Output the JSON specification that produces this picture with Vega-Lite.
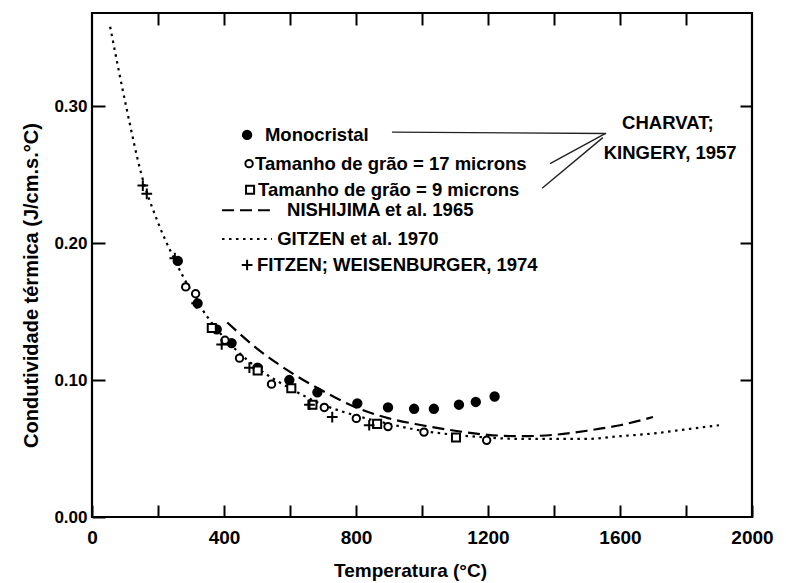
{
  "$schema": "https://vega.github.io/schema/vega-lite/v6.json",
  "width": 660,
  "height": 504,
  "autosize": {"type": "none"},
  "padding": {"left": 92, "top": 13, "right": 34, "bottom": 66},
  "background": "white",
  "config": {
    "view": {"stroke": "black", "strokeWidth": 2.2},
    "axis": {
      "grid": false, "domain": false, "ticks": true, "tickColor": "black", "tickWidth": 2,
      "labelColor": "black", "titleColor": "black",
      "labelFont": "Liberation Sans", "labelFontWeight": "bold",
      "titleFont": "Liberation Sans", "titleFontWeight": "bold"
    }
  },
  "datasets": {
    "points": [
      {"series": "Monocristal", "T": 260, "k": 0.187},
      {"series": "Monocristal", "T": 320, "k": 0.156},
      {"series": "Monocristal", "T": 378, "k": 0.137},
      {"series": "Monocristal", "T": 423, "k": 0.127},
      {"series": "Monocristal", "T": 502, "k": 0.109},
      {"series": "Monocristal", "T": 598, "k": 0.100},
      {"series": "Monocristal", "T": 683, "k": 0.091},
      {"series": "Monocristal", "T": 804, "k": 0.083},
      {"series": "Monocristal", "T": 897, "k": 0.080},
      {"series": "Monocristal", "T": 976, "k": 0.079},
      {"series": "Monocristal", "T": 1036, "k": 0.079},
      {"series": "Monocristal", "T": 1112, "k": 0.082},
      {"series": "Monocristal", "T": 1163, "k": 0.084},
      {"series": "Monocristal", "T": 1220, "k": 0.088},
      {"series": "Grao17", "T": 284, "k": 0.168},
      {"series": "Grao17", "T": 314, "k": 0.163},
      {"series": "Grao17", "T": 403, "k": 0.129},
      {"series": "Grao17", "T": 447, "k": 0.116},
      {"series": "Grao17", "T": 544, "k": 0.097},
      {"series": "Grao17", "T": 704, "k": 0.080},
      {"series": "Grao17", "T": 801, "k": 0.072},
      {"series": "Grao17", "T": 897, "k": 0.066},
      {"series": "Grao17", "T": 1006, "k": 0.062},
      {"series": "Grao17", "T": 1196, "k": 0.056},
      {"series": "Grao9", "T": 363, "k": 0.138},
      {"series": "Grao9", "T": 502, "k": 0.107},
      {"series": "Grao9", "T": 604, "k": 0.094},
      {"series": "Grao9", "T": 668, "k": 0.082},
      {"series": "Grao9", "T": 864, "k": 0.068},
      {"series": "Grao9", "T": 1103, "k": 0.058},
      {"series": "Fitzen", "T": 154, "k": 0.242},
      {"series": "Fitzen", "T": 166, "k": 0.236},
      {"series": "Fitzen", "T": 251, "k": 0.189},
      {"series": "Fitzen", "T": 317, "k": 0.156},
      {"series": "Fitzen", "T": 393, "k": 0.126},
      {"series": "Fitzen", "T": 477, "k": 0.109},
      {"series": "Fitzen", "T": 659, "k": 0.082},
      {"series": "Fitzen", "T": 728, "k": 0.073},
      {"series": "Fitzen", "T": 840, "k": 0.067}
    ],
    "curves": [
      {"curve": "GITZEN", "T": 55, "k": 0.358},
      {"curve": "GITZEN", "T": 105, "k": 0.298},
      {"curve": "GITZEN", "T": 150, "k": 0.250},
      {"curve": "GITZEN", "T": 200, "k": 0.215},
      {"curve": "GITZEN", "T": 250, "k": 0.188},
      {"curve": "GITZEN", "T": 300, "k": 0.165},
      {"curve": "GITZEN", "T": 350, "k": 0.146},
      {"curve": "GITZEN", "T": 400, "k": 0.131},
      {"curve": "GITZEN", "T": 450, "k": 0.119},
      {"curve": "GITZEN", "T": 500, "k": 0.109},
      {"curve": "GITZEN", "T": 600, "k": 0.094},
      {"curve": "GITZEN", "T": 700, "k": 0.082},
      {"curve": "GITZEN", "T": 800, "k": 0.074},
      {"curve": "GITZEN", "T": 900, "k": 0.068},
      {"curve": "GITZEN", "T": 1000, "k": 0.063},
      {"curve": "GITZEN", "T": 1100, "k": 0.060},
      {"curve": "GITZEN", "T": 1200, "k": 0.058},
      {"curve": "GITZEN", "T": 1300, "k": 0.057},
      {"curve": "GITZEN", "T": 1400, "k": 0.057},
      {"curve": "GITZEN", "T": 1500, "k": 0.057},
      {"curve": "GITZEN", "T": 1600, "k": 0.059},
      {"curve": "GITZEN", "T": 1700, "k": 0.061},
      {"curve": "GITZEN", "T": 1800, "k": 0.064},
      {"curve": "GITZEN", "T": 1900, "k": 0.067},
      {"curve": "NISHIJIMA", "T": 410, "k": 0.142},
      {"curve": "NISHIJIMA", "T": 500, "k": 0.123},
      {"curve": "NISHIJIMA", "T": 600, "k": 0.106},
      {"curve": "NISHIJIMA", "T": 700, "k": 0.092},
      {"curve": "NISHIJIMA", "T": 800, "k": 0.080},
      {"curve": "NISHIJIMA", "T": 900, "k": 0.072},
      {"curve": "NISHIJIMA", "T": 1000, "k": 0.067},
      {"curve": "NISHIJIMA", "T": 1100, "k": 0.063},
      {"curve": "NISHIJIMA", "T": 1200, "k": 0.060},
      {"curve": "NISHIJIMA", "T": 1300, "k": 0.059},
      {"curve": "NISHIJIMA", "T": 1400, "k": 0.060},
      {"curve": "NISHIJIMA", "T": 1500, "k": 0.063},
      {"curve": "NISHIJIMA", "T": 1600, "k": 0.067},
      {"curve": "NISHIJIMA", "T": 1700, "k": 0.073}
    ],
    "legendSymbols": [
      {"series": "Monocristal", "T": 470, "k": 0.279},
      {"series": "Grao17", "T": 476, "k": 0.258},
      {"series": "Grao9", "T": 479, "k": 0.239},
      {"series": "Fitzen", "T": 470, "k": 0.184}
    ],
    "legendLines": [
      {"curve": "NISHIJIMA", "T": 394, "T2": 539, "k": 0.224},
      {"curve": "GITZEN", "T": 394, "T2": 545, "k": 0.203}
    ],
    "connectors": [
      {"T": 909, "k": 0.281, "T2": 1558, "k2": 0.280},
      {"T": 1555, "k": 0.280, "T2": 1388, "k2": 0.258},
      {"T": 1548, "k": 0.277, "T2": 1364, "k2": 0.240}
    ],
    "legendTexts": [
      {"label": "Monocristal", "T": 524, "k": 0.279},
      {"label": "Tamanho de grão = 17 microns", "T": 494, "k": 0.258},
      {"label": "Tamanho de grão = 9 microns", "T": 503, "k": 0.239},
      {"label": "NISHIJIMA et al. 1965", "T": 591, "k": 0.224},
      {"label": "GITZEN et al. 1970", "T": 561, "k": 0.203},
      {"label": "FITZEN; WEISENBURGER, 1974", "T": 500, "k": 0.184}
    ],
    "sourceTexts": [
      {"label": "CHARVAT;", "T": 1745, "k": 0.288},
      {"label": "KINGERY, 1957", "T": 1752, "k": 0.266}
    ]
  },
  "encoding": {
    "x": {"field": "T", "type": "quantitative", "scale": {"domain": [0, 2000], "nice": false, "zero": false}, "axis": null},
    "y": {"field": "k", "type": "quantitative", "scale": {"domain": [0, 0.368], "nice": false, "zero": false}, "axis": null}
  },
  "layer": [
    {
      "data": {"name": "curves"},
      "mark": {"type": "line", "color": "black", "strokeWidth": 2.2, "interpolate": "monotone"},
      "encoding": {
        "detail": {"field": "curve"},
        "strokeDash": {"field": "curve", "type": "nominal", "scale": {"domain": ["NISHIJIMA", "GITZEN"], "range": [[12, 6], [2.5, 4.5]]}, "legend": null},
        "x": {"field": "T", "type": "quantitative", "scale": {"domain": [0, 2000], "nice": false, "zero": false},
          "axis": {"orient": "top", "values": [200, 400, 600, 800, 1000, 1200, 1400, 1600, 1800], "labels": false, "tickSize": -12, "title": null}},
        "y": {"field": "k", "type": "quantitative", "scale": {"domain": [0, 0.368], "nice": false, "zero": false},
          "axis": {"orient": "right", "values": [0.1, 0.2, 0.3], "labels": false, "tickSize": -12, "title": null}}
      }
    },
    {
      "data": {"name": "legendLines"},
      "mark": {"type": "rule", "color": "black", "strokeWidth": 2},
      "encoding": {
        "x2": {"field": "T2"},
        "strokeDash": {"field": "curve", "type": "nominal", "scale": {"domain": ["NISHIJIMA", "GITZEN"], "range": [[12, 6], [2.5, 4.5]]}, "legend": null}
      }
    },
    {
      "data": {"name": "connectors"},
      "mark": {"type": "rule", "color": "#222", "strokeWidth": 1.4},
      "encoding": {"x2": {"field": "T2"}, "y2": {"field": "k2"}}
    },
    {
      "data": {"name": "points"},
      "mark": {"type": "point", "stroke": "black", "strokeWidth": 2, "opacity": 1},
      "encoding": {
        "x": {"field": "T", "type": "quantitative", "scale": {"domain": [0, 2000], "nice": false, "zero": false},
          "axis": {"orient": "bottom", "values": [0, 200, 400, 600, 800, 1000, 1200, 1400, 1600, 1800, 2000],
            "labelExpr": "datum.value % 400 === 0 ? datum.label : ''", "format": "d", "tickSize": -12,
            "labelPadding": 23, "labelFontSize": 19, "labelFlush": false, "labelOverlap": false,
            "title": "Temperatura (°C)", "titleFontSize": 19, "titlePadding": 14, "titleX": 318}},
        "y": {"field": "k", "type": "quantitative", "scale": {"domain": [0, 0.368], "nice": false, "zero": false},
          "axis": {"orient": "left", "values": [0, 0.1, 0.2, 0.3], "format": ".2f", "tickSize": -13,
            "labelPadding": 18, "labelFontSize": 17, "labelFlush": false, "labelOverlap": false,
            "title": "Condutividade térmica (J/cm.s.°C)", "titleFontSize": 20, "titlePadding": 12, "titleY": 272}},
        "shape": {"field": "series", "type": "nominal", "scale": {"domain": ["Monocristal", "Grao17", "Grao9", "Fitzen"], "range": ["circle", "circle", "square", "M-1,0L1,0M0,-1L0,1"]}, "legend": null},
        "fill": {"field": "series", "type": "nominal", "scale": {"domain": ["Monocristal", "Grao17", "Grao9", "Fitzen"], "range": ["black", "white", "white", "white"]}, "legend": null},
        "size": {"field": "series", "type": "nominal", "scale": {"type": "ordinal", "domain": ["Monocristal", "Grao17", "Grao9", "Fitzen"], "range": [70, 55, 65, 115]}, "legend": null}
      }
    },
    {
      "data": {"name": "legendSymbols"},
      "mark": {"type": "point", "stroke": "black", "strokeWidth": 2, "opacity": 1},
      "encoding": {
        "shape": {"field": "series", "type": "nominal", "scale": {"domain": ["Monocristal", "Grao17", "Grao9", "Fitzen"], "range": ["circle", "circle", "square", "M-1,0L1,0M0,-1L0,1"]}, "legend": null},
        "fill": {"field": "series", "type": "nominal", "scale": {"domain": ["Monocristal", "Grao17", "Grao9", "Fitzen"], "range": ["black", "white", "white", "white"]}, "legend": null},
        "size": {"field": "series", "type": "nominal", "scale": {"type": "ordinal", "domain": ["Monocristal", "Grao17", "Grao9", "Fitzen"], "range": [70, 55, 65, 115]}, "legend": null}
      }
    },
    {
      "data": {"name": "legendTexts"},
      "mark": {"type": "text", "align": "left", "baseline": "middle", "font": "Liberation Sans", "fontWeight": "bold", "fontSize": 18.5, "color": "black"},
      "encoding": {"text": {"field": "label"}}
    },
    {
      "data": {"name": "sourceTexts"},
      "mark": {"type": "text", "align": "center", "baseline": "middle", "font": "Liberation Sans", "fontWeight": "bold", "fontSize": 18.5, "color": "black"},
      "encoding": {"text": {"field": "label"}}
    }
  ],
  "resolve": {"axis": {"x": "independent", "y": "independent"}}
}
